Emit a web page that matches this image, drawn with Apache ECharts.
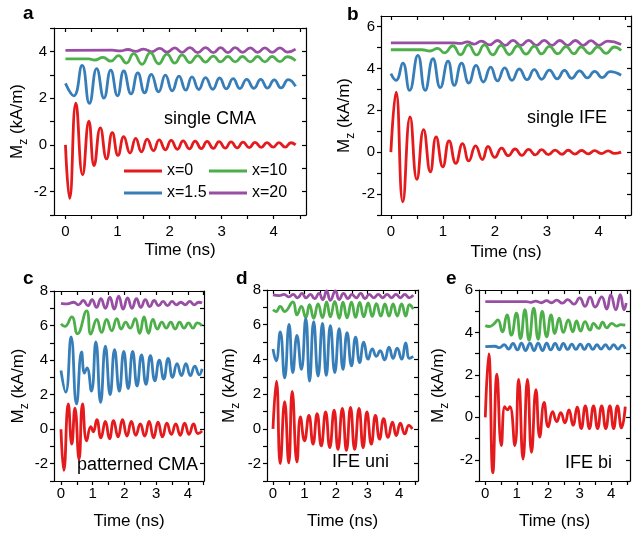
<!DOCTYPE html>
<html><head><meta charset="utf-8">
<script src="https://cdn.jsdelivr.net/npm/echarts@6/dist/echarts.min.js"></script>
<style>html,body{margin:0;padding:0;background:#fff}#c{width:641px;height:536px}</style>
</head><body><div id="c"></div><script>
const seriesNames = ['x=0', 'x=1.5', 'x=10', 'x=20'];
const seriesColors = ['#e41a1c', '#377eb8', '#4daf4a', '#984ea3'];
const panelLetters = ['a', 'b', 'c', 'd', 'e'];
const panelTexts = ['single CMA', 'single IFE', 'patterned CMA', 'IFE uni', 'IFE bi'];
const xTickLabels = [0, 1, 2, 3, 4];
const xTickMarks = [0, 0.5, 1, 1.5, 2, 2.5, 3, 3.5, 4, 4.5];
const yTickLabels = [[-2, 0, 2, 4], [-2, 0, 2, 4, 6], [-2, 0, 2, 4, 6, 8], [-2, 0, 2, 4, 6, 8], [-2, 0, 2, 4, 6]];
const xName = 'Time (ns)';

// ---- panel a: single CMA (time ns, Mz kA/m extrema)
const aRed = [[0,0],[0.08,-2.29],[0.2,1.78],[0.33,-1.28],[0.45,1.01],[0.55,-0.89],[0.67,0.73],[0.79,-0.6],[0.9,0.52],[1.01,-0.45],[1.12,0.35],[1.24,-0.35],[1.35,0.28],[1.46,-0.3],[1.57,0.25],[1.69,-0.25],[1.8,0.21],[1.92,-0.21],[2.03,0.19],[2.15,-0.19],[2.26,0.17],[2.38,-0.17],[2.49,0.16],[2.61,-0.16],[2.72,0.15],[2.84,-0.15],[2.95,0.14],[3.07,-0.14],[3.18,0.13],[3.3,-0.13],[3.41,0.12],[3.53,-0.12],[3.64,0.11],[3.76,-0.11],[3.87,0.1],[3.99,-0.1],[4.1,0.1],[4.22,-0.1],[4.33,0.09],[4.42,0]];
const aBlue = [[0,2.63],[0.16,2.1],[0.32,3.4],[0.46,1.78],[0.6,3.26],[0.74,2.0],[0.87,3.2],[1.0,2.1],[1.12,3.16],[1.26,2.18],[1.39,3.08],[1.52,2.23],[1.65,3.02],[1.79,2.27],[1.92,2.98],[2.05,2.31],[2.18,2.94],[2.31,2.34],[2.43,2.91],[2.56,2.37],[2.69,2.88],[2.83,2.38],[2.96,2.86],[3.09,2.4],[3.22,2.83],[3.35,2.41],[3.48,2.8],[3.62,2.42],[3.75,2.8],[3.88,2.43],[4.01,2.78],[4.14,2.44],[4.28,2.79],[4.42,2.5]];
const aGreen = [[0,3.68],[0.45,3.68],[0.56,3.63],[0.72,3.74],[0.87,3.58],[1.02,3.82],[1.17,3.5],[1.31,3.9],[1.47,3.45],[1.63,3.95],[1.79,3.47],[1.95,3.88],[2.1,3.5],[2.24,3.85],[2.39,3.52],[2.54,3.82],[2.69,3.54],[2.84,3.8],[2.98,3.55],[3.12,3.78],[3.26,3.55],[3.4,3.78],[3.55,3.55],[3.69,3.78],[3.83,3.55],[3.97,3.78],[4.12,3.56],[4.26,3.77],[4.42,3.6]];
const aPurple = [[0,4.04],[0.9,4.05],[1.05,4.02],[1.2,4.08],[1.35,4.0],[1.5,4.1],[1.66,3.98],[1.81,4.13],[1.95,3.97],[2.1,4.15],[2.24,3.96],[2.39,4.16],[2.54,3.95],[2.69,4.16],[2.84,3.95],[2.98,4.16],[3.12,3.95],[3.26,4.16],[3.4,3.96],[3.55,4.15],[3.69,3.96],[3.83,4.15],[3.97,3.96],[4.12,4.15],[4.26,3.97],[4.42,4.1]];

// ---- panel b: single IFE
const bRed = [[0,0],[0.1,2.87],[0.23,-2.37],[0.37,1.68],[0.5,-1.3],[0.63,1.08],[0.76,-0.94],[0.87,0.73],[1.0,-0.7],[1.12,0.54],[1.25,-0.54],[1.38,0.41],[1.5,-0.42],[1.63,0.3],[1.76,-0.35],[1.87,0.27],[2.0,-0.25],[2.13,0.19],[2.26,-0.17],[2.39,0.15],[2.52,-0.15],[2.65,0.13],[2.78,-0.13],[2.9,0.12],[3.03,-0.12],[3.16,0.1],[3.29,-0.1],[3.41,0.09],[3.54,-0.09],[3.67,0.08],[3.8,-0.08],[3.92,0.07],[4.05,-0.07],[4.18,0.06],[4.3,-0.06],[4.43,0]];
const bBlue = [[0,3.75],[0.1,3.43],[0.23,4.25],[0.36,2.95],[0.52,4.62],[0.66,2.95],[0.81,4.46],[0.95,3.08],[1.1,4.35],[1.22,3.19],[1.36,4.25],[1.5,3.3],[1.64,4.14],[1.78,3.35],[1.92,4.06],[2.05,3.4],[2.19,4.02],[2.33,3.43],[2.47,3.97],[2.62,3.46],[2.76,3.94],[2.9,3.48],[3.05,3.92],[3.2,3.5],[3.34,3.9],[3.48,3.52],[3.63,3.88],[3.78,3.55],[3.92,3.86],[4.07,3.56],[4.22,3.84],[4.43,3.67]];
const bGreen = [[0,4.89],[0.6,4.89],[0.75,4.83],[0.9,4.95],[1.03,4.74],[1.19,5.08],[1.34,4.65],[1.49,5.12],[1.65,4.64],[1.8,5.12],[1.96,4.65],[2.12,5.1],[2.28,4.66],[2.44,5.08],[2.6,4.68],[2.76,5.06],[2.9,4.69],[3.05,5.05],[3.21,4.7],[3.37,5.04],[3.52,4.7],[3.66,5.03],[3.82,4.71],[3.98,5.03],[4.14,4.72],[4.3,5.02],[4.43,4.85]];
const bPurple = [[0,5.22],[1.2,5.22],[1.33,5.19],[1.47,5.26],[1.6,5.16],[1.74,5.3],[1.9,5.12],[2.05,5.33],[2.2,5.1],[2.35,5.34],[2.5,5.1],[2.65,5.34],[2.8,5.1],[2.95,5.34],[3.1,5.1],[3.25,5.33],[3.4,5.1],[3.55,5.33],[3.7,5.1],[3.85,5.32],[4.0,5.1],[4.17,5.3],[4.43,5.14]];

// ---- panel c: patterned CMA
const cRed = [[0,0],[0.09,-2.39],[0.23,1.46],[0.34,-0.87],[0.44,1.22],[0.57,-1.75],[0.68,1.46],[0.81,-0.68],[0.94,0.15],[1.02,-0.15],[1.13,0.55],[1.26,-0.5],[1.4,0.45],[1.53,-0.55],[1.66,0.5],[1.8,-0.45],[1.94,0.55],[2.08,-0.4],[2.22,0.45],[2.36,-0.35],[2.5,0.3],[2.64,-0.4],[2.78,0.45],[2.92,-0.5],[3.06,0.4],[3.2,-0.45],[3.34,0.35],[3.48,-0.3],[3.62,0.3],[3.76,-0.35],[3.9,0.35],[4.04,-0.3],[4.18,0.3],[4.32,-0.25],[4.45,-0.1]];
const cBlue = [[0,3.4],[0.15,2.14],[0.32,5.34],[0.49,1.46],[0.65,4.47],[0.74,3.25],[0.82,3.55],[0.96,2.2],[1.1,5.05],[1.25,1.55],[1.4,4.8],[1.55,2.0],[1.69,4.6],[1.84,2.2],[1.98,4.5],[2.12,2.35],[2.26,4.5],[2.4,2.5],[2.54,4.3],[2.68,2.6],[2.82,4.25],[2.96,2.8],[3.1,4.0],[3.24,2.9],[3.38,4.1],[3.52,3.0],[3.66,3.8],[3.8,3.1],[3.94,3.8],[4.08,3.1],[4.22,3.65],[4.36,3.15],[4.45,3.5]];
const cGreen = [[0,6.1],[0.12,5.95],[0.34,6.5],[0.52,5.53],[0.81,6.85],[0.94,5.5],[1.13,6.35],[1.28,5.6],[1.44,6.35],[1.6,5.7],[1.76,6.4],[1.9,5.8],[2.04,6.2],[2.18,5.85],[2.34,6.4],[2.48,5.55],[2.62,6.5],[2.76,5.55],[2.9,6.35],[3.04,5.8],[3.18,6.2],[3.32,5.85],[3.46,6.2],[3.6,5.8],[3.74,6.2],[3.88,5.85],[4.02,6.15],[4.16,5.85],[4.3,6.15],[4.45,6.0]];
const cPurple = [[0,7.28],[0.2,7.25],[0.4,7.35],[0.55,7.2],[0.7,7.45],[0.85,7.15],[0.98,7.5],[1.12,7.05],[1.26,7.55],[1.4,7.0],[1.54,7.65],[1.68,6.95],[1.82,7.7],[1.96,6.95],[2.1,7.6],[2.24,7.0],[2.38,7.55],[2.52,7.05],[2.66,7.5],[2.8,7.1],[2.94,7.45],[3.08,7.15],[3.22,7.4],[3.36,7.15],[3.5,7.4],[3.64,7.2],[3.78,7.35],[3.92,7.2],[4.06,7.4],[4.2,7.2],[4.34,7.35],[4.45,7.3]];

// ---- panel d: IFE uni
const dRed = [[0,0],[0.11,2.75],[0.23,-2.0],[0.37,1.57],[0.5,-1.96],[0.61,2.16],[0.76,-1.9],[0.87,0.69],[1.0,-0.69],[1.14,0.78],[1.27,-0.88],[1.4,0.88],[1.53,-0.98],[1.67,0.98],[1.8,-1.08],[1.94,1.08],[2.06,-1.18],[2.2,1.18],[2.33,-1.24],[2.46,1.24],[2.59,-1.18],[2.73,1.18],[2.86,-1.08],[2.98,0.98],[3.12,-0.88],[3.25,0.78],[3.38,-0.59],[3.51,0.59],[3.65,-0.49],[3.79,0.39],[3.91,-0.39],[4.04,0.33],[4.18,-0.29],[4.31,0.2],[4.42,0]];
const dBlue = [[0,4.6],[0.1,3.92],[0.23,5.59],[0.37,2.94],[0.51,6.02],[0.63,3.24],[0.76,5.39],[0.9,3.43],[1.04,6.37],[1.16,2.75],[1.29,6.18],[1.43,3.04],[1.57,6.08],[1.69,3.08],[1.82,5.94],[1.96,3.24],[2.1,5.78],[2.22,3.43],[2.35,5.55],[2.49,3.63],[2.62,5.29],[2.75,3.82],[2.88,5.0],[3.02,4.02],[3.15,4.61],[3.28,4.18],[3.4,4.51],[3.54,3.98],[3.68,4.71],[3.81,4.06],[3.94,4.65],[4.08,4.02],[4.21,4.96],[4.33,4.06],[4.45,4.18]];
const dGreen = [[0,6.86],[0.1,6.76],[0.23,7.06],[0.37,6.76],[0.63,7.31],[0.76,6.57],[0.9,7.06],[1.04,6.41],[1.16,7.16],[1.29,6.37],[1.43,7.2],[1.57,6.41],[1.7,7.31],[1.82,6.45],[1.96,7.35],[2.1,6.37],[2.22,7.3],[2.35,6.4],[2.49,7.3],[2.62,6.42],[2.75,7.28],[2.88,6.45],[3.02,7.25],[3.15,6.48],[3.28,7.22],[3.42,6.5],[3.55,7.2],[3.68,6.5],[3.81,7.2],[3.94,6.5],[4.08,7.2],[4.21,6.5],[4.33,7.15],[4.45,6.9]];
const dPurple = [[0,7.72],[0.2,7.68],[0.35,7.75],[0.5,7.6],[0.64,7.75],[0.78,7.55],[0.92,7.8],[1.05,7.55],[1.19,7.75],[1.32,7.5],[1.46,7.8],[1.58,7.45],[1.7,7.95],[1.82,7.4],[1.98,7.95],[2.1,7.45],[2.24,7.8],[2.38,7.5],[2.5,7.75],[2.64,7.55],[2.78,7.8],[2.92,7.5],[3.05,7.75],[3.2,7.55],[3.34,7.75],[3.48,7.55],[3.62,7.75],[3.76,7.55],[3.9,7.75],[4.04,7.55],[4.18,7.75],[4.32,7.55],[4.45,7.7]];

// ---- panel e: IFE bi
const eRed = [[0,0],[0.11,2.99],[0.24,-2.61],[0.37,2.03],[0.51,-1.33],[0.62,0.5],[0.7,0.35],[0.78,0.5],[0.94,-1.33],[1.06,1.79],[1.2,-1.97],[1.34,1.79],[1.47,-1.65],[1.61,1.31],[1.73,-0.93],[1.87,0.7],[2.0,-0.45],[2.14,0.27],[2.27,-0.2],[2.4,0.22],[2.53,-0.26],[2.66,0.35],[2.79,-0.37],[2.92,0.48],[3.05,-0.53],[3.18,0.54],[3.31,-0.53],[3.44,0.54],[3.57,-0.53],[3.7,0.54],[3.83,-0.53],[3.96,0.54],[4.08,-0.53],[4.2,0.54],[4.33,-0.5],[4.45,0.5]];
const eBlue = [[0,3.33],[0.3,3.35],[0.45,3.28],[0.6,3.42],[0.74,3.22],[0.88,3.48],[1.02,3.18],[1.15,3.5],[1.28,3.15],[1.42,3.5],[1.55,3.15],[1.68,3.5],[1.82,3.15],[1.95,3.5],[2.08,3.18],[2.22,3.48],[2.35,3.18],[2.48,3.48],[2.62,3.2],[2.75,3.45],[2.88,3.2],[3.02,3.45],[3.15,3.2],[3.28,3.45],[3.42,3.2],[3.55,3.42],[3.68,3.22],[3.82,3.42],[3.95,3.22],[4.08,3.42],[4.22,3.22],[4.35,3.4],[4.45,3.22]];
const eGreen = [[0,4.32],[0.12,4.28],[0.26,4.38],[0.4,4.59],[0.54,4.03],[0.69,4.83],[0.83,3.87],[0.99,4.91],[1.12,3.71],[1.26,5.07],[1.39,3.63],[1.54,5.15],[1.68,3.68],[1.81,4.99],[1.95,3.79],[2.09,4.83],[2.21,3.95],[2.35,4.67],[2.48,4.0],[2.64,4.59],[2.78,4.03],[2.9,4.54],[3.03,4.06],[3.17,4.51],[3.33,4.11],[3.44,4.43],[3.6,4.19],[3.73,4.48],[3.86,4.22],[4.02,4.43],[4.18,4.3],[4.3,4.37],[4.45,4.35]];
const ePurple = [[0,5.45],[1.3,5.45],[1.45,5.42],[1.6,5.48],[1.78,5.4],[1.95,5.5],[2.1,5.4],[2.27,5.52],[2.45,5.38],[2.62,5.55],[2.82,5.33],[3.0,5.63],[3.17,5.23],[3.33,5.66],[3.49,5.2],[3.7,5.68],[3.86,5.1],[3.99,5.77],[4.15,5.07],[4.29,5.78],[4.41,5.07],[4.48,5.39]];

const panelData = [
  [aRed, aBlue, aGreen, aPurple],
  [bRed, bBlue, bGreen, bPurple],
  [cRed, cBlue, cGreen, cPurple],
  [dRed, dBlue, dGreen, dPurple],
  [eRed, eBlue, eGreen, ePurple]
];

const layout = [
  {l:54, t:28, w:252, h:187, xmin:-0.22, xmax:4.62, ymin:-3, ymax:5, xm:9, ym:7, xg:27, yg:23},
  {l:381, t:16, w:250, h:199, xmin:-0.19, xmax:4.62, ymin:-3, ymax:6.5, xm:9, ym:6, xg:29, yg:24},
  {l:54, t:291, w:150, h:190, xmin:-0.22, xmax:4.51, ymin:-3, ymax:8, xm:5, ym:6, xg:32, yg:23},
  {l:267, t:290, w:151, h:191, xmin:-0.19, xmax:4.6, ymin:-3, ymax:8, xm:5, ym:6, xg:32, yg:25},
  {l:479, t:290, w:151, h:191, xmin:-0.2, xmax:4.6, ymin:-3, ymax:6, xm:5, ym:6, xg:32, yg:28}
];
const letterPos = [[23,14],[347,15],[23,279],[236,279],[446,279]];
const textPos = [[164,119],[527,118],[77,465],[332,462],[565,463]];

const FONT = 'Liberation Sans, Arial, sans-serif';
const axisLineStyle = {color:'#000', width:1.2};
const grids = [], xAxes = [], yAxes = [], series = [];

layout.forEach((L, i) => {
  grids.push({left:L.l, top:L.t, width:L.w, height:L.h, containLabel:false});
  const yTicks = [];
  for (let v = Math.ceil(L.ymin); v <= L.ymax; v++) yTicks.push(v);
  const xTicks = xTickMarks.filter(v => v <= L.xmax);
  xAxes.push({
    type:'value', gridIndex:i, min:L.xmin, max:L.xmax, position:'bottom',
    axisLine:{show:true, onZero:false, lineStyle:axisLineStyle},
    axisTick:{show:true, inside:false, length:4, customValues:xTicks, lineStyle:axisLineStyle},
    axisLabel:{show:true, customValues:xTickLabels, margin:L.xm, fontSize:15, color:'#000', fontFamily:FONT},
    splitLine:{show:false},
    name:xName, nameLocation:'middle', nameGap:L.xg,
    nameTextStyle:{fontSize:17, color:'#000', fontFamily:FONT}
  });
  xAxes.push({
    type:'value', gridIndex:i, min:L.xmin, max:L.xmax, position:'top',
    axisLine:{show:true, onZero:false, lineStyle:axisLineStyle},
    axisTick:{show:true, inside:true, length:4, customValues:xTicks, lineStyle:axisLineStyle},
    axisLabel:{show:false}, splitLine:{show:false}
  });
  yAxes.push({
    type:'value', gridIndex:i, min:L.ymin, max:L.ymax, position:'left',
    axisLine:{show:true, onZero:false, lineStyle:axisLineStyle},
    axisTick:{show:true, inside:false, length:4, customValues:yTicks, lineStyle:axisLineStyle},
    axisLabel:{show:true, customValues:yTickLabels[i], margin:L.ym, fontSize:15, color:'#000', fontFamily:FONT},
    splitLine:{show:false},
    name:'{a|M}{b|z}{a| (kA/m)}', nameLocation:'middle', nameGap:L.yg, nameRotate:90,
    nameTextStyle:{fontSize:17, color:'#000', fontFamily:FONT,
      rich:{a:{fontSize:17, fontFamily:FONT, color:'#000', verticalAlign:'top', lineHeight:17},
            b:{fontSize:12, fontFamily:FONT, color:'#000', verticalAlign:'bottom', lineHeight:21}}}
  });
  yAxes.push({
    type:'value', gridIndex:i, min:L.ymin, max:L.ymax, position:'right',
    axisLine:{show:true, onZero:false, lineStyle:axisLineStyle},
    axisTick:{show:true, inside:true, length:4, customValues:yTicks, lineStyle:axisLineStyle},
    axisLabel:{show:false}, splitLine:{show:false}
  });
  [3, 2, 1, 0].forEach(k => {
    series.push({
      type:'line', name:seriesNames[k], xAxisIndex:2*i, yAxisIndex:2*i,
      data:panelData[i][k], symbol:'none', showSymbol:false, smooth:0.5,
      color:seriesColors[k], lineStyle:{width:2.8, color:seriesColors[k]},
      silent:true, animation:false
    });
  });
});

const graphics = [];
panelLetters.forEach((s, i) => {
  graphics.push({type:'text', x:letterPos[i][0], y:letterPos[i][1],
    style:{text:s, font:'bold 19px ' + FONT, fill:'#000', verticalAlign:'middle'}});
});
panelTexts.forEach((s, i) => {
  graphics.push({type:'text', x:textPos[i][0], y:textPos[i][1],
    style:{text:s, font:'18px ' + FONT, fill:'#000', verticalAlign:'middle'}});
});

const legendCommon = {orient:'vertical', top:163, itemWidth:38, itemHeight:3, itemGap:6, icon:'rect',
  selectedMode:false, textStyle:{fontSize:16, color:'#000', fontFamily:FONT}, padding:0};

const chart = echarts.init(document.getElementById('c'), null, {renderer:'canvas'});
chart.setOption({
  backgroundColor:'#fff',
  animation:false,
  grid:grids, xAxis:xAxes, yAxis:yAxes, series:series,
  legend:[
    Object.assign({}, legendCommon, {left:124, data:[seriesNames[0], seriesNames[1]]}),
    Object.assign({}, legendCommon, {left:209, data:[seriesNames[2], seriesNames[3]]})
  ],
  graphic:graphics
});
</script></body></html>
